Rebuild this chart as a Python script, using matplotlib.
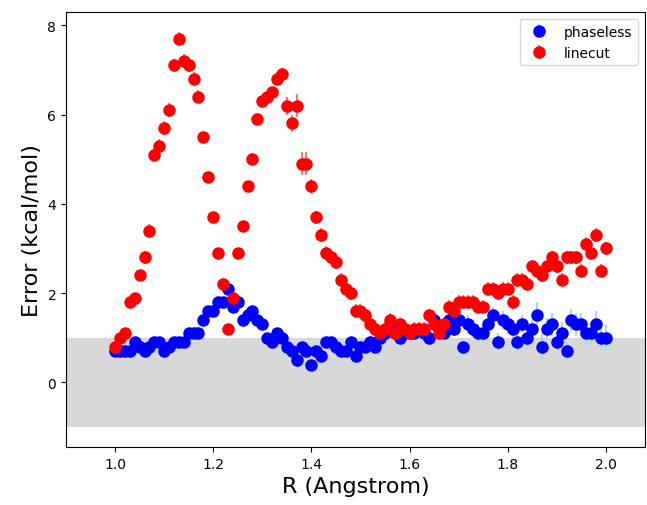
import matplotlib.pyplot as plt
import numpy as np

R = np.round(np.arange(1.0, 2.001, 0.01), 2)

phaseless = [0.7, 0.7, 0.7, 0.7, 0.9, 0.8, 0.7, 0.8, 0.9, 0.9,
             0.7, 0.8, 0.9, 0.9, 0.9, 1.1, 1.1, 1.1, 1.4, 1.6,
             1.6, 1.8, 1.8, 2.1, 1.7, 1.8, 1.4, 1.5, 1.6, 1.4,
             1.3, 1.0, 0.9, 1.1, 1.0, 0.8, 0.7, 0.5, 0.8, 0.7,
             0.4, 0.7, 0.6, 0.9, 0.9, 0.8, 0.7, 0.7, 0.9, 0.6,
             0.8, 0.8, 0.9, 0.8, 1.0, 1.1, 1.2, 1.1, 1.0, 1.1,
             1.1, 1.1, 1.2, 1.1, 1.0, 1.4, 1.2, 1.1, 1.4, 1.2,
             1.4, 0.8, 1.3, 1.2, 1.1, 1.1, 1.3, 1.5, 0.9, 1.4,
             1.3, 1.2, 0.9, 1.3, 1.0, 1.2, 1.5, 0.8, 1.2, 1.3,
             0.9, 1.1, 0.7, 1.4, 1.3, 1.3, 1.1, 1.1, 1.3, 1.0,
             1.0]
phaseless_err = [0.1, 0.1, 0.1, 0.1, 0.1, 0.1, 0.1, 0.1, 0.1, 0.1,
                 0.1, 0.1, 0.1, 0.1, 0.1, 0.1, 0.1, 0.1, 0.1, 0.1,
                 0.1, 0.1, 0.1, 0.1, 0.1, 0.1, 0.1, 0.1, 0.1, 0.1,
                 0.1, 0.1, 0.1, 0.1, 0.1, 0.1, 0.1, 0.1, 0.1, 0.1,
                 0.1, 0.1, 0.1, 0.1, 0.1, 0.1, 0.1, 0.1, 0.15, 0.1,
                 0.1, 0.1, 0.15, 0.1, 0.15, 0.15, 0.15, 0.15, 0.15, 0.15,
                 0.15, 0.15, 0.15, 0.15, 0.15, 0.2, 0.15, 0.15, 0.2, 0.15,
                 0.2, 0.15, 0.2, 0.2, 0.2, 0.2, 0.2, 0.2, 0.2, 0.2,
                 0.2, 0.2, 0.2, 0.2, 0.25, 0.25, 0.3, 0.3, 0.25, 0.25,
                 0.2, 0.25, 0.2, 0.25, 0.25, 0.25, 0.3, 0.25, 0.3, 0.25,
                 0.3]

linecut = [0.8, 1.0, 1.1, 1.8, 1.9, 2.4, 2.8, 3.4, 5.1, 5.3,
           5.7, 6.1, 7.1, 7.7, 7.2, 7.1, 6.8, 6.4, 5.5, 4.6,
           3.7, 2.9, 2.2, 1.2, 1.9, 2.9, 3.5, 4.4, 5.0, 5.9,
           6.3, 6.4, 6.5, 6.8, 6.9, 6.2, 5.8, 6.2, 4.9, 4.9,
           4.4, 3.7, 3.3, 2.9, 2.8, 2.7, 2.3, 2.1, 2.0, 1.6,
           1.6, 1.5, 1.3, 1.2, 1.1, 1.2, 1.4, 1.1, 1.3, 1.2,
           1.1, 1.2, 1.2, 1.2, 1.5, 1.3, 1.1, 1.3, 1.7, 1.6,
           1.8, 1.8, 1.8, 1.8, 1.7, 1.7, 2.1, 2.1, 2.0, 2.1,
           2.1, 1.8, 2.3, 2.3, 2.2, 2.6, 2.5, 2.4, 2.6, 2.8,
           2.6, 2.3, 2.8, 2.8, 2.8, 2.5, 3.1, 2.9, 3.3, 2.5,
           3.0]
linecut_err = [0.1, 0.1, 0.1, 0.1, 0.1, 0.1, 0.15, 0.15, 0.15, 0.15,
               0.15, 0.15, 0.15, 0.15, 0.15, 0.15, 0.15, 0.15, 0.1, 0.1,
               0.1, 0.1, 0.1, 0.1, 0.1, 0.1, 0.1, 0.1, 0.1, 0.1,
               0.1, 0.1, 0.1, 0.15, 0.15, 0.2, 0.2, 0.25, 0.25, 0.25,
               0.15, 0.15, 0.15, 0.15, 0.15, 0.15, 0.15, 0.15, 0.15, 0.15,
               0.15, 0.15, 0.15, 0.15, 0.15, 0.15, 0.15, 0.15, 0.15, 0.15,
               0.15, 0.15, 0.15, 0.15, 0.15, 0.15, 0.15, 0.15, 0.15, 0.15,
               0.15, 0.15, 0.15, 0.15, 0.15, 0.15, 0.15, 0.15, 0.15, 0.15,
               0.15, 0.15, 0.15, 0.15, 0.15, 0.15, 0.15, 0.15, 0.15, 0.15,
               0.15, 0.15, 0.15, 0.15, 0.15, 0.15, 0.15, 0.15, 0.15, 0.15,
               0.15]

fig, ax = plt.subplots(figsize=(6.47, 5.06), dpi=100)
fig.subplots_adjust(left=0.102, right=0.997, bottom=0.115, top=0.974)

ax.axhspan(-1, 1, color='grey', alpha=0.3, lw=0)
ax.errorbar(R, phaseless, yerr=phaseless_err, fmt='o', color='blue',
            ecolor='lightblue', ms=8, label='phaseless')
ax.errorbar(R, linecut, yerr=linecut_err, fmt='o', color='red',
            ecolor='lightcoral', ms=8, label='linecut')

ax.set_xlim(0.9, 2.08)
ax.set_xlabel('R (Angstrom)', fontsize=16)
ax.set_ylabel('Error (kcal/mol)', fontsize=16)
ax.legend(loc='upper right')

plt.savefig('out.png')
